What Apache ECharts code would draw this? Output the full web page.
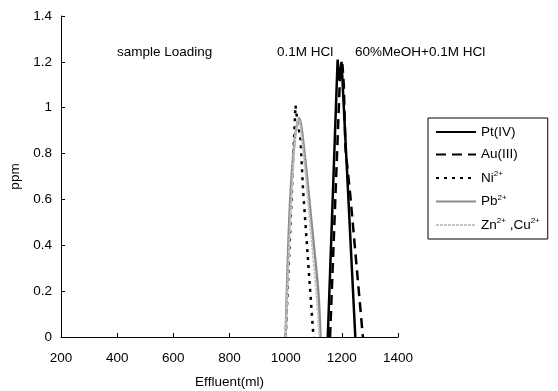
<!DOCTYPE html>
<html>
<head>
<meta charset="utf-8">
<script src="https://cdn.jsdelivr.net/npm/echarts@6/dist/echarts.min.js"></script>
<style>
  html, body { margin: 0; padding: 0; background: #fff; }
  #chart { width: 558px; height: 391px; }
</style>
</head>
<body>
<div id="chart"></div>
<script>
// axis ranges (tick labels)
const xTicks = [200, 400, 600, 800, 1000, 1200, 1400]
const yTicks = [0, 0.2, 0.4, 0.6, 0.8, 1, 1.2, 1.4]

// elution curves, [effluent ml, ppm]
const ptData = [[1150, 0], [1185, 1.21], [1192, 1.12], [1199, 1.2], [1248, 0]]
const auData = [[1158, 0], [1193, 1.12], [1202, 1.19], [1207, 1.1], [1213, 0.82], [1230, 0.62], [1275, 0]]
const niData = [[1000, 0], [1035, 1.01], [1040, 0.96], [1053, 0.86], [1062, 0.64], [1099, 0]]
const pbData = [[1000, 0], [1015, 0.57], [1033, 0.87], [1048, 0.955], [1068, 0.79], [1092, 0.5], [1116, 0.2], [1124, 0]]
const znCuData = [[1000, 0], [1018, 0.55], [1035, 0.88], [1046, 0.95], [1065, 0.78], [1088, 0.48], [1110, 0.18], [1120, 0]]

const seriesNames = ['Pt(IV)', 'Au(III)', 'Ni2+', 'Pb2+', 'Zn2+,Cu2+']
const legendText = {
  'Pt(IV)': 'Pt(IV)',
  'Au(III)': 'Au(III)',
  'Ni2+': 'Ni{sup|2+}',
  'Pb2+': 'Pb{sup|2+}',
  'Zn2+,Cu2+': 'Zn{sup|2+}{n| ,}Cu{sup|2+}',
}
const stageLabels = ['sample Loading', '0.1M HCl', '60%MeOH+0.1M HCl']

const font = 'Liberation Sans, Arial, sans-serif'
const chart = echarts.init(document.getElementById('chart'))

const line = (name, data, color, type, width, smooth) => ({
  name,
  type: 'line',
  data,
  symbol: 'none',
  smooth,
  animation: false,
  lineStyle: { color, type, width },
  itemStyle: { color },
})

chart.setOption({
  backgroundColor: '#fff',
  textStyle: { fontFamily: font },
  grid: { left: 61, right: 160, top: 16, bottom: 54, containLabel: false, outerBoundsMode: 'none' },
  xAxis: {
    type: 'value',
    min: xTicks[0],
    max: xTicks[xTicks.length - 1],
    interval: xTicks[1] - xTicks[0],
    name: 'Effluent(ml)',
    nameLocation: 'middle',
    nameGap: 38,
    nameTextStyle: { color: '#000', fontSize: 13.5, fontFamily: font },
    axisLine: { lineStyle: { color: '#000', width: 1 } },
    axisTick: { inside: true, length: 4, lineStyle: { color: '#000' } },
    axisLabel: { color: '#000', fontSize: 13.5, margin: 14, fontFamily: font, formatter: (v) => String(v) },
    splitLine: { show: false },
  },
  yAxis: {
    type: 'value',
    min: yTicks[0],
    max: yTicks[yTicks.length - 1],
    interval: 0.2,
    name: 'ppm',
    nameLocation: 'middle',
    nameGap: 29,
    nameTextStyle: { color: '#000', fontSize: 13.5, fontFamily: font },
    axisLine: { show: true, lineStyle: { color: '#000', width: 1 } },
    axisTick: { show: true, inside: true, length: 4, lineStyle: { color: '#000' } },
    axisLabel: { color: '#000', fontSize: 13.5, margin: 9, fontFamily: font },
    splitLine: { show: false },
  },
  legend: {
    orient: 'vertical',
    left: 428,
    top: 118,
    data: seriesNames,
    itemWidth: 40,
    itemHeight: 14,
    itemGap: 8.5,
    padding: [7, 8, 7, 7],
    borderColor: '#000',
    borderWidth: 1,
    backgroundColor: '#fff',
    itemStyle: { color: 'rgba(0,0,0,0)', borderWidth: 0, opacity: 0 },
    formatter: (n) => legendText[n],
    textStyle: {
      color: '#000',
      fontSize: 13.5,
      fontFamily: font,
      rich: {
        sup: { fontSize: 8, padding: [0, 0, 8, 0], color: '#000', fontFamily: font },
        n: { fontSize: 13.5, color: '#000', fontFamily: font },
      },
    },
  },
  graphic: [
    { type: 'text', left: 117, top: 45, style: { text: stageLabels[0], fill: '#000', font: '13.5px ' + font } },
    { type: 'text', left: 277, top: 45, style: { text: stageLabels[1], fill: '#000', font: '13.5px ' + font } },
    { type: 'text', left: 355, top: 45, style: { text: stageLabels[2], fill: '#000', font: '13.5px ' + font } },
  ],
  series: [
    line(seriesNames[0], ptData, '#000', 'solid', 2.5, false),
    line(seriesNames[1], auData, '#000', [10, 6], 2.5, false),
    line(seriesNames[2], niData, '#000', [3, 5], 2.5, false),
    line(seriesNames[3], pbData, '#8c8c8c', 'solid', 2.5, 0.3),
    line(seriesNames[4], znCuData, '#c4c4c4', [3, 1], 2, 0.3),
  ],
})
</script>
</body>
</html>
